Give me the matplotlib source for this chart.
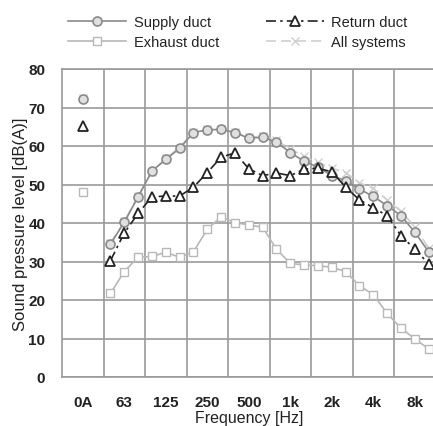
import matplotlib
matplotlib.use("Agg")
import matplotlib.pyplot as plt
import numpy as np

# Octave-band tick labels (columns)
octave_labels = ["0A", "63", "125", "250", "500", "1k", "2k", "4k", "8k"]
# 1/3-octave bands 50 Hz .. 10 kHz
bands = ["50", "63", "80", "100", "125", "160", "200", "250", "315", "400", "500",
         "630", "800", "1k", "1.25k", "1.6k", "2k", "2.5k", "3.15k", "4k", "5k",
         "6.3k", "8k", "10k"]

# Overall (OA) values
supply_oa = 72.2
return_oa = 65.2
exhaust_oa = 48.0
all_oa = 72.4

supply = [34.5, 40.2, 46.8, 53.5, 56.5, 59.4, 63.5, 64.2, 64.3, 63.5, 62.0,
          62.3, 61.0, 58.3, 56.0, 54.5, 52.3, 51.0, 48.8, 46.9, 44.5, 41.9, 37.6, 32.5]
return_duct = [30.2, 37.4, 42.5, 46.8, 47.0, 47.0, 49.3, 53.1, 57.1, 58.2, 54.1,
               52.3, 53.0, 52.3, 54.0, 54.2, 53.3, 49.3, 46.0, 44.0, 41.9, 36.7, 33.2, 29.4]
exhaust = [21.7, 27.4, 31.1, 31.3, 32.4, 31.1, 32.5, 38.4, 41.6, 40.1, 39.5,
           38.9, 33.2, 29.5, 29.1, 28.9, 28.5, 27.4, 23.7, 21.4, 16.5, 12.7, 9.9, 7.3]
all_systems = [34.8, 40.4, 47.0, 53.3, 56.8, 59.6, 63.6, 64.3, 64.4, 63.6, 62.3,
               62.5, 61.5, 59.2, 57.3, 55.8, 54.2, 53.1, 50.4, 49.0, 46.0, 43.0, 39.0, 33.5]

fig = plt.figure(figsize=(4.33, 4.27), dpi=100)
ax = fig.add_axes([62/433, 1-378/427, 1-62/433 + 0.006, (378-70)/427])

xb = 1 + 1/6 + np.arange(len(bands)) / 3.0
x_oa = 0.5

c_sup = "#8a8a8a"
c_ret = "#222222"
c_exh = "#b8b8b8"
c_all = "#cfcfcf"

ms = 6
ax.plot(xb, all_systems, color=c_all, ls=(0, (6, 3)), lw=1.2, marker="x", ms=ms,
        mew=1.0, label="All systems", zorder=2)
ax.plot(xb, exhaust, color=c_exh, ls="-", lw=1.2, marker="s", ms=ms, mfc="white",
        mec=c_exh, mew=1.0, label="Exhaust duct", zorder=3)
ax.plot(xb, supply, color=c_sup, ls="-", lw=1.2, marker="o", ms=ms+0.5, mfc="#e0e0e0",
        mec=c_sup, mew=1.2, label="Supply duct", zorder=4)
ax.plot(xb, return_duct, color=c_ret, ls=(0, (6, 2.5, 1.5, 2.5)), lw=1.2, marker="^",
        ms=ms+1, mfc="white", mec=c_ret, mew=1.3, label="Return duct", zorder=5)

ax.plot([x_oa], [all_oa], ls="none", marker="x", ms=ms, color=c_all, zorder=2)
ax.plot([x_oa], [exhaust_oa], ls="none", marker="s", ms=ms, mfc="white", mec=c_exh, zorder=3)
ax.plot([x_oa], [supply_oa], ls="none", marker="o", ms=ms+0.5, mfc="#e0e0e0", mec=c_sup, mew=1.2, zorder=4)
ax.plot([x_oa], [return_oa], ls="none", marker="^", ms=ms+1, mfc="white", mec=c_ret, mew=1.3, zorder=5)

ax.set_xlim(0, 9)
ax.set_ylim(0, 80)
ax.set_xticks(np.arange(9) + 0.5)
ax.set_xticklabels(octave_labels)
ax.set_xticks(np.arange(1, 9), minor=True)
ax.set_yticks(np.arange(0, 81, 10))
ax.grid(False)
ax.grid(True, which="minor", axis="x", color="#9a9a9a", lw=1.2)
ax.grid(True, which="major", axis="y", color="#9a9a9a", lw=1.2)
ax.set_axisbelow(True)
ax.tick_params(which="both", length=0)
ax.tick_params(axis="x", pad=13)
ax.tick_params(axis="y", pad=12)
for lab in ax.get_xticklabels() + ax.get_yticklabels():
    lab.set_family(["Liberation Sans", "DejaVu Sans"])
    lab.set_fontweight("bold")
    lab.set_fontsize(11)
    lab.set_color("#222222")
for sp in ax.spines.values():
    sp.set_color("#9a9a9a")
    sp.set_linewidth(1.2)

ax.set_ylabel("Sound pressure level [dB(A)]", family=["Liberation Sans", "DejaVu Sans"],
              fontsize=12, labelpad=0, color="#222222")
ax.set_xlabel("Frequency [Hz]", family=["Liberation Sans", "DejaVu Sans"],
              fontsize=11.5, labelpad=0.5, color="#222222")

h, l = ax.get_legend_handles_labels()
order = [2, 1, 3, 0]  # Supply, Exhaust, Return, All
leg = fig.legend([h[i] for i in order], [l[i] for i in order], ncol=2,
                 loc="upper left", bbox_to_anchor=(55/433, 1-3/427), frameon=False,
                 prop={"family": ["Liberation Sans", "DejaVu Sans"], "size": 10.5},
                 handlelength=4.0, columnspacing=3.2, labelspacing=0.4, handletextpad=0.5)
for t in leg.get_texts():
    t.set_color("#222222")

fig.savefig("out.png", dpi=100)
